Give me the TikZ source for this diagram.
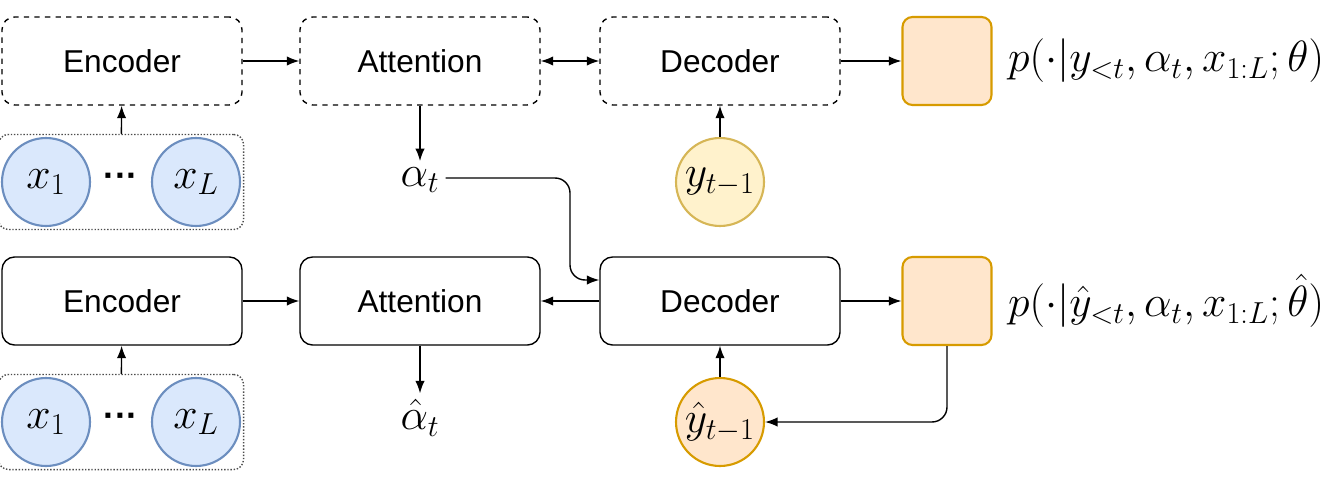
\documentclass[tikz,border=0pt]{standalone}
\usepackage{fontspec}
\setmainfont{Liberation Sans}
\usetikzlibrary{positioning, fit, arrows.meta}
\definecolor{bluefill}{HTML}{DAE8FC}
\definecolor{blueline}{HTML}{6C8EBF}
\definecolor{orangefill}{HTML}{FFE6CC}
\definecolor{orangeline}{HTML}{D79B00}
\definecolor{yellowfill}{HTML}{FFF2CC}
\definecolor{yellowline}{HTML}{D6B656}

\begin{document}
\begin{tikzpicture}[
  x=0.02cm, y=-0.02cm,
  every node/.style={
    font=\fontsize{18}{22}\selectfont
  },
  mathtext/.style={
    font=\fontsize{25}{30}\selectfont
  },
  block/.style={
    draw,
    thick,
    rounded corners=2.5mm,
    minimum width=4.8cm,
    minimum height=1.76cm
  },
  ghost/.style={
    block,
    dashed
  },
  outbox/.style={
    draw=orangeline,
    fill=orangefill,
    very thick,
    rounded corners=2mm,
    minimum width=1.78cm,
    minimum height=1.76cm
  },
  token/.style={
    circle,
    draw=blueline,
    fill=bluefill,
    very thick,
    minimum size=1.76cm,
    inner sep=0mm,
    mathtext
  },
  inputs/.style={
    draw=black!70,
    thick,
    densely dotted,
    rounded corners=2mm,
    inner sep=0.5mm
  },
  flow/.style={
    -{Latex[length=2.5mm]},
    thick
  }
]
\useasboundingbox (0,0) rectangle (1335,483);

% teacher forcing
\node(enc1)[ghost] at (122,61) {Encoder};
\node(att1)[ghost] at (420,61) {Attention};
\node(dec1)[ghost] at (720,61) {Decoder};
\node(out1)[outbox] at (947,61) {};
\node(lab1)[mathtext, anchor=west] at (1002,61) {$p(\cdot|y_{<t},\alpha_t,x_{1:L};\theta)$};

\node(xa1)[token] at (46,182) {$x_1$};
\node(xb1)[token] at (196,182) {$x_L$};
\node(dots1)[font=\bfseries\fontsize{20}{24}\selectfont] at (121,180) {···};
\node(in1)[inputs, fit=(xa1)(xb1)] {};
\node(alpha1)[mathtext] at (420,180) {$\alpha_t$};
\node(y1)[token, draw=yellowline, fill=yellowfill] at (720,182) {$y_{t-1}$};

\draw[flow] (in1) -- (enc1);
\draw[flow] (enc1) -- (att1);
\draw[flow, {Latex[length=2.5mm]}-{Latex[length=2.5mm]}] (att1) -- (dec1);
\draw[flow] (dec1) -- (out1);
\draw[flow] (att1) -- (alpha1);
\draw[flow] (y1) -- (dec1);

% free running
\node(enc2)[block] at (122,301) {Encoder};
\node(att2)[block] at (420,301) {Attention};
\node(dec2)[block] at (720,301) {Decoder};
\node(out2)[outbox] at (947,301) {};
\node(lab2)[mathtext, anchor=west] at (1002,301) {$p(\cdot|\hat{y}_{<t},\alpha_t,x_{1:L};\hat{\theta})$};

\node(xa2)[token] at (46,422) {$x_1$};
\node(xb2)[token] at (196,422) {$x_L$};
\node(dots2)[font=\bfseries\fontsize{20}{24}\selectfont] at (121,420) {···};
\node(in2)[inputs, fit=(xa2)(xb2)] {};
\node(alpha2)[mathtext] at (420,418) {$\hat{\alpha}_t$};
\node(y2)[token, draw=orangeline, fill=orangefill] at (720,422) {$\hat{y}_{t-1}$};

\draw[flow] (in2) -- (enc2);
\draw[flow] (enc2) -- (att2);
\draw[flow] (dec2) -- (att2);
\draw[flow] (dec2) -- (out2);
\draw[flow] (att2) -- (alpha2);
\draw[flow] (y2) -- (dec2);

\draw[flow, rounded corners=3mm] (alpha1.east |- 0,178) -- (570,178) -- (570,280) -- (dec2.west |- 0,280);
\draw[flow, rounded corners=3mm] (out2.south) -- (947,422) -- (y2.east);

\end{tikzpicture}
\end{document}
